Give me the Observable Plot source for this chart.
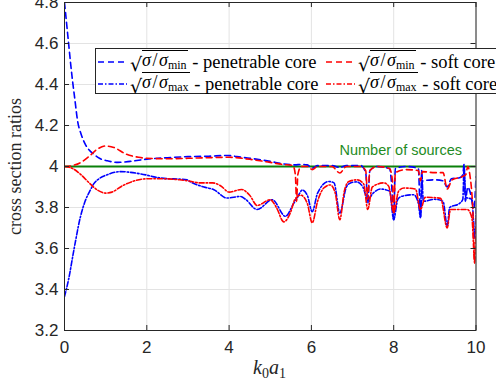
<!DOCTYPE html>
<html>
<head>
<meta charset="utf-8">
<script src="https://cdn.jsdelivr.net/npm/d3@7"></script>
<script src="https://cdn.jsdelivr.net/npm/@observablehq/plot@0.6"></script>
<style>
  html, body { margin: 0; padding: 0; background: #fff; overflow: hidden; }
  #wrap { position: relative; width: 496px; height: 385px; overflow: hidden; }
  #legend { position: absolute; left: 95px; top: 48px; width: 412px; height: 46px; border: 1px solid #262626; background: #fff; font-size: 18px; color: #000; box-sizing: border-box; }
  .item { position: absolute; display: flex; align-items: center; height: 22px; white-space: nowrap; }
  .sq { display: inline-flex; align-items: flex-end; }
  .rad { font-size: 19px; line-height: 20px; }
  .ov { border-top: 1px solid #000; line-height: 17px; padding-top: 1px; padding-right: 1px; }
  .ov i { font-style: italic; }
  .ov sub { font-size: 12px; vertical-align: -3px; font-style: normal; }
  #xlabel { position: absolute; left: 0; width: 539px; top: 356px; text-align: center; font-family: "Liberation Serif", serif; font-size: 20px; font-style: italic; color: #262626; }
  #xlabel sub { font-size: 14px; font-style: normal; vertical-align: -4px; }
</style>
</head>
<body>
<div id="wrap">
  <div id="chart"></div>
  <div id="xlabel"><i>k</i><sub>0</sub><i>a</i><sub>1</sub></div>
  <div id="legend"></div>
</div>
<script>
// ---- data ----
const xTicks = [0, 2, 4, 6, 8, 10];
const yTicks = [3.2, 3.4, 3.6, 3.8, 4.0, 4.2, 4.4, 4.6, 4.8];
const sourcesLevel = 4;
const sourcesLabel = "Number of sources";

// sqrt(sigma/sigma_min) - penetrable core (blue dashed)
const minPenetrable = [
  [0,4.80],[0.05,4.70],[0.1,4.60],[0.15,4.50],[0.2,4.41],[0.25,4.33],[0.32,4.22],[0.4,4.16],[0.5,4.11],
  [0.6,4.08],[0.71,4.06],[0.85,4.04],[1.04,4.028],[1.3,4.02],[1.6,4.025],[2.0,4.036],[2.5,4.043],
  [3.0,4.048],[3.5,4.05],[3.95,4.054],[4.3,4.045],[4.76,4.033],[5.0,4.025],[5.33,4.012],[5.6,4.008],
  [5.75,4.01],[5.9,4.008],[6.02,3.992],[6.15,4.005],[6.5,4.005],[6.69,3.995],[6.85,4.005],[7.2,4.005],
  [7.32,3.97],[7.37,3.82],[7.42,3.98],[7.6,4.0],[7.9,3.99],[7.96,3.88],[8.0,3.74],[8.04,3.99],
  [8.3,4.0],[8.6,3.99],[8.65,3.75],[8.7,3.93],[9.0,3.935],[9.2,3.93],[9.3,3.90],[9.4,3.94],[9.6,3.945],
  [9.68,3.96],[9.71,4.01],[9.74,3.83],[9.8,3.90],[9.85,3.88],[9.95,3.80],[10,3.95]
];
// sqrt(sigma/sigma_min) - soft core (red dashed)
const minSoft = [
  [0,4.0],[0.2,4.005],[0.4,4.02],[0.6,4.05],[0.8,4.085],[1.0,4.10],[1.2,4.093],[1.5,4.06],[1.8,4.045],
  [2.0,4.04],[2.5,4.038],[3.0,4.04],[3.5,4.043],[4.0,4.045],[4.5,4.035],[5.0,4.02],[5.3,4.01],[5.55,4.005],
  [5.61,3.96],[5.64,3.83],[5.67,3.96],[5.75,4.0],[5.9,4.0],[6.02,3.985],[6.15,4.0],[6.5,4.0],[6.69,3.968],
  [6.85,4.0],[7.2,4.0],[7.32,3.98],[7.37,3.84],[7.42,3.98],[7.6,4.0],[7.9,3.99],[7.97,3.93],[8.0,3.77],
  [8.04,3.97],[8.3,3.985],[8.6,3.98],[8.65,3.93],[8.7,3.975],[9.0,3.97],[9.2,3.97],[9.3,3.89],[9.42,3.935],
  [9.66,3.95],[9.75,3.96],[9.8,4.0],[9.85,3.96],[9.92,3.80],[9.97,3.53],[10,3.75]
];
// sqrt(sigma/sigma_max) - penetrable core (blue dash-dot)
const maxPenetrable = [
  [0,3.365],[0.1,3.45],[0.23,3.595],[0.39,3.757],[0.5,3.83],[0.63,3.886],[0.71,3.915],[0.85,3.942],
  [1.04,3.96],[1.36,3.975],[1.85,3.964],[2.33,3.944],[2.98,3.935],[3.06,3.925],[3.39,3.90],[3.63,3.887],
  [3.95,3.846],[4.28,3.854],[4.4,3.84],[4.68,3.79],[5.05,3.838],[5.37,3.757],[5.57,3.82],[5.65,3.845],
  [5.78,3.885],[5.9,3.86],[6.02,3.78],[6.15,3.87],[6.42,3.927],[6.55,3.92],[6.69,3.773],[6.85,3.90],
  [6.95,3.92],[7.1,3.925],[7.25,3.90],[7.37,3.84],[7.5,3.87],[7.68,3.89],[7.9,3.88],[8.0,3.74],[8.1,3.84],
  [8.2,3.855],[8.49,3.862],[8.6,3.82],[8.65,3.75],[8.68,3.98],[8.72,3.83],[9.0,3.84],[9.2,3.83],[9.3,3.71],
  [9.36,3.80],[9.6,3.82],[9.68,3.84],[9.71,4.0],[9.75,3.85],[9.9,3.84],[9.97,3.65],[10,3.8]
];
// sqrt(sigma/sigma_max) - soft core (red dash-dot)
const maxSoft = [
  [0,4.0],[0.2,3.99],[0.4,3.96],[0.6,3.92],[0.8,3.885],[1.0,3.87],[1.15,3.875],[1.4,3.905],[1.7,3.93],
  [2.0,3.94],[2.4,3.94],[2.8,3.935],[3.0,3.93],[3.3,3.92],[3.6,3.92],[3.8,3.905],[4.0,3.875],[4.3,3.888],
  [4.5,3.86],[4.68,3.81],[5.0,3.838],[5.15,3.80],[5.33,3.73],[5.5,3.78],[5.6,3.84],[5.74,3.86],[5.9,3.82],
  [6.02,3.725],[6.15,3.83],[6.3,3.895],[6.46,3.91],[6.58,3.87],[6.69,3.74],[6.8,3.88],[6.91,3.927],
  [7.11,3.935],[7.27,3.915],[7.37,3.79],[7.48,3.90],[7.76,3.92],[7.88,3.903],[8.0,3.775],[8.12,3.88],
  [8.25,3.895],[8.53,3.89],[8.65,3.79],[8.77,3.85],[9.14,3.845],[9.3,3.70],[9.38,3.79],[9.79,3.79],
  [9.9,3.75],[9.97,3.53],[10,3.7]
];

const legendItems = [
  {color: "#0000ff", dash: "6,4", sub: "min", text: "penetrable core"},
  {color: "#ff0000", dash: "6,4", sub: "min", text: "soft core"},
  {color: "#0000ff", dash: "5,2,1.5,2", sub: "max", text: "penetrable core"},
  {color: "#ff0000", dash: "5,2,1.5,2", sub: "max", text: "soft core"}
];

// ---- layout ----
const W = 496, H = 385;
const mL = 64, mR = 20.5, mT = 2, mB = 55;
const innerW = W - mL - mR, innerH = H - mT - mB;
const axisColor = "#262626";
const sansFont = "Liberation Sans, Arial, sans-serif";
const serifFont = "Liberation Serif, serif";
const dashed = "6,4";
const dashDot = "5,2,1.5,2";

const toObj = arr => arr.map(([x, y]) => ({x, y}));
const lineOpts = (stroke, dash) => ({x: "x", y: "y", stroke, strokeWidth: 1.6, strokeDasharray: dash, curve: "monotone-x", clip: true});

const chart = Plot.plot({
  width: W, height: H,
  marginLeft: mL, marginRight: mR, marginTop: mT, marginBottom: mB,
  x: {domain: [0, 10], ticks: xTicks},
  y: {domain: [3.2, 4.8], ticks: yTicks},
  marks: [
    Plot.gridX(xTicks, {stroke: "#e3e3e3", strokeOpacity: 1, strokeWidth: 1}),
    Plot.gridY(yTicks, {stroke: "#e3e3e3", strokeOpacity: 1, strokeWidth: 1}),
    Plot.ruleY([sourcesLevel], {stroke: "#0a800a", strokeWidth: 2}),
    Plot.line(toObj(minPenetrable), lineOpts("#0000ff", dashed)),
    Plot.line(toObj(maxPenetrable), lineOpts("#0000ff", dashDot)),
    Plot.line(toObj(minSoft), lineOpts("#ff0000", dashed)),
    Plot.line(toObj(maxSoft), lineOpts("#ff0000", dashDot)),
    Plot.text([sourcesLabel], {x: () => 10, y: () => sourcesLevel, text: d => d, textAnchor: "end", dx: -14, dy: -16,
      fill: "#1f8c1f", fontFamily: sansFont, fontSize: 14.5}),
    // inward tick marks (bottom, top, left, right)
    Plot.ruleX(xTicks, {stroke: axisColor, insetTop: innerH - 5}),
    Plot.ruleX(xTicks, {stroke: axisColor, insetBottom: innerH - 5}),
    Plot.ruleY(yTicks, {stroke: axisColor, insetRight: innerW - 5}),
    Plot.ruleY(yTicks, {stroke: axisColor, insetLeft: innerW - 5}),
    Plot.frame({stroke: axisColor, strokeWidth: 1}),
    Plot.axisX(xTicks, {tickSize: 0, tickPadding: 10, label: null, fontSize: 17, fontFamily: sansFont, color: axisColor, tickFormat: d => String(d)}),
    Plot.axisY(yTicks, {tickSize: 0, tickPadding: 6, label: null, fontSize: 17, fontFamily: sansFont, color: axisColor, tickFormat: d => String(+d.toFixed(1))}),
    Plot.axisY(yTicks, {tickSize: 0, tickFormat: () => "", label: "cross section ratios", labelAnchor: "center", labelArrow: "none", labelOffset: 56,
      fontSize: 18, fontFamily: serifFont, color: axisColor})
  ]
});
document.getElementById("chart").appendChild(chart);

// ---- legend ----
const legend = document.getElementById("legend");
const positions = [[2, 2], [230, 2], [2, 24], [230, 24]];
const SERIF = "font-family:'Liberation Serif','Times New Roman',serif;";
legendItems.forEach((it, i) => {
  const div = document.createElement("div");
  div.className = "item";
  div.style.left = positions[i][0] + "px";
  div.style.top = positions[i][1] + "px";
  div.setAttribute("style", div.getAttribute("style") + SERIF);
  div.innerHTML =
    `<svg width="29" height="20" style="margin-right:3px"><line x1="0" y1="10" x2="29" y2="10" stroke="${it.color}" stroke-width="1.6" stroke-dasharray="${it.dash}"/></svg>` +
    `<span class="sq" style="${SERIF}"><span class="rad" style="font-family:'DejaVu Serif',serif;">√</span><span class="ov" style="${SERIF}"><i style="${SERIF}">σ</i>&#8202;/&#8202;<i style="${SERIF}">σ</i><sub style="${SERIF}">${it.sub}</sub></span></span>` +
    `<span style="${SERIF} font-size:18.5px;">&nbsp;-&nbsp;${it.text.replace(/ /g, "&nbsp;")}</span>`;
  legend.appendChild(div);
});
</script>
</body>
</html>
